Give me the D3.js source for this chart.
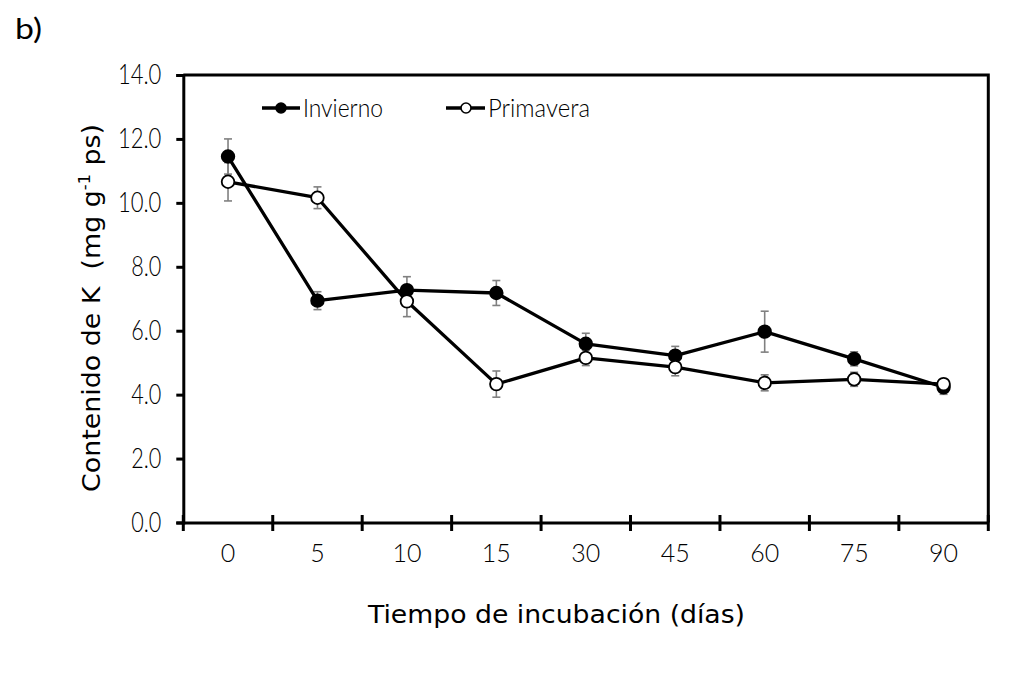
<!DOCTYPE html>
<html>
<head>
<meta charset="utf-8">
<script src="https://cdn.jsdelivr.net/npm/d3@7/dist/d3.min.js"></script>
<style>
  html, body { margin: 0; padding: 0; background: #fff; }
  svg { display: block; }
</style>
</head>
<body>
<svg id="chart" width="1030" height="688"></svg>
<script>
// ---- data ----
const categories = ["0", "5", "10", "15", "30", "45", "60", "75", "90"];
const invierno    = [11.45, 6.94, 7.27, 7.18, 5.59, 5.22, 5.97, 5.12, 4.23];
const inviernoErr = [0.55, 0.28, 0.42, 0.39, 0.33, 0.29, 0.64, 0.22, 0.22];
const primavera    = [10.66, 10.16, 6.92, 4.33, 5.15, 4.86, 4.37, 4.48, 4.33];
const primaveraErr = [0.60, 0.34, 0.48, 0.41, 0.24, 0.27, 0.25, 0.22, 0.16];
const yTicks = [0, 2, 4, 6, 8, 10, 12, 14];
const seriesNames = ["Invierno", "Primavera"];

// ---- layout ----
const L = 183.3, R = 988.3, T = 75, B = 522.5;
const svg = d3.select("#chart");

const x = d3.scaleBand().domain(categories).range([L, R]).padding(0);
const y = d3.scaleLinear().domain([0, 14]).range([B, T]);

const tickFont = "'Lato', 'Liberation Sans', sans-serif";
const tickWeight = 300;
const titleFont = "'DejaVu Sans', Verdana, sans-serif";
function digitLen(s, dw, pw) {
  let n = 0;
  for (const c of s) n += (c === "." ? pw : dw);
  return n;
}

// frame (top and right)
svg.append("path")
  .attr("d", `M${L},${T}H${R}V${B}`)
  .attr("fill", "none").attr("stroke", "#000").attr("stroke-width", 3);

// y axis
const yAxis = d3.axisLeft(y).tickValues(yTicks).tickFormat(d3.format(".1f")).tickSize(7).tickPadding(15);
const gy = svg.append("g").attr("transform", `translate(${L},0)`).call(yAxis);
gy.select(".domain").attr("stroke", "#000").attr("stroke-width", 3);
gy.selectAll(".tick line").attr("stroke", "#000").attr("stroke-width", 3);
gy.selectAll(".tick text")
  .attr("font-family", tickFont).attr("font-weight", tickWeight).attr("font-size", 27).attr("fill", "#000")
  .attr("textLength", d => digitLen(d3.format(".1f")(d), 13.3, 3.5))
  .attr("lengthAdjust", "spacingAndGlyphs");

// x axis (labels at band centres, ticks at band boundaries)
const xAxis = d3.axisBottom(x).tickSize(0).tickPadding(22);
const gx = svg.append("g").attr("transform", `translate(0,${B})`).call(xAxis);
gx.select(".domain").attr("stroke", "#000").attr("stroke-width", 3);
gx.selectAll(".tick text")
  .attr("font-family", tickFont).attr("font-weight", tickWeight).attr("font-size", 25).attr("fill", "#000")
  .attr("textLength", d => digitLen(d, 14.5, 3))
  .attr("lengthAdjust", "spacingAndGlyphs");
const bounds = categories.map(c => x(c)).concat([x.range()[1]]);
gx.selectAll(".bound").data(bounds).enter().append("line")
  .attr("class", "bound")
  .attr("x1", d => d).attr("x2", d => d)
  .attr("y1", -7.5).attr("y2", 8.5)
  .attr("stroke", "#000").attr("stroke-width", 3);

const cx = c => x(c) + x.bandwidth() / 2;

const series = [
  { name: seriesNames[0], vals: invierno, err: inviernoErr, fill: "#000" },
  { name: seriesNames[1], vals: primavera, err: primaveraErr, fill: "#fff" }
];

// error bars
series.forEach(s => {
  const g = svg.append("g").attr("stroke", "#808080").attr("stroke-width", 1.6).attr("fill", "none");
  categories.forEach((c, i) => {
    const xc = cx(c), y1 = y(s.vals[i] + s.err[i]), y2 = y(s.vals[i] - s.err[i]);
    g.append("line").attr("x1", xc).attr("x2", xc).attr("y1", y1).attr("y2", y2);
    g.append("line").attr("x1", xc - 4).attr("x2", xc + 4).attr("y1", y1).attr("y2", y1);
    g.append("line").attr("x1", xc - 4).attr("x2", xc + 4).attr("y1", y2).attr("y2", y2);
  });
});

// lines
const line = d3.line().x((d, i) => cx(categories[i])).y(d => y(d));
series.forEach(s => {
  svg.append("path").datum(s.vals).attr("d", line)
    .attr("fill", "none").attr("stroke", "#000").attr("stroke-width", 3.3)
    .attr("stroke-linejoin", "round");
});

// markers
series.forEach(s => {
  svg.append("g").selectAll("circle").data(s.vals).enter().append("circle")
    .attr("cx", (d, i) => cx(categories[i])).attr("cy", d => y(d))
    .attr("r", 6.3).attr("fill", s.fill).attr("stroke", "#000").attr("stroke-width", 1.8);
});

// legend
const legendItems = [
  { x0: 262, x1: 300, mx: 281, tx: 303, tl: 80 },
  { x0: 446, x1: 485, mx: 466, tx: 488, tl: 102 }
];
const ly = 108;
series.forEach((s, i) => {
  const li = legendItems[i];
  svg.append("line").attr("x1", li.x0).attr("x2", li.x1).attr("y1", ly).attr("y2", ly)
    .attr("stroke", "#000").attr("stroke-width", 3.3);
  svg.append("circle").attr("cx", li.mx).attr("cy", ly).attr("r", 5)
    .attr("fill", s.fill).attr("stroke", "#000").attr("stroke-width", 1.6);
  svg.append("text").attr("x", li.tx).attr("y", ly + 9)
    .attr("font-family", tickFont).attr("font-weight", tickWeight).attr("font-size", 26).attr("fill", "#000")
    .attr("textLength", li.tl).attr("lengthAdjust", "spacingAndGlyphs")
    .text(s.name);
});

// axis titles
svg.append("text")
  .attr("x", 556.5).attr("y", 623).attr("text-anchor", "middle")
  .attr("font-family", titleFont).attr("font-size", 24).attr("fill", "#000")
  .attr("textLength", 377).attr("lengthAdjust", "spacingAndGlyphs")
  .text("Tiempo de incubación (días)");

const yt = svg.append("text")
  .attr("transform", "translate(100,308) rotate(-90)")
  .attr("text-anchor", "middle")
  .attr("font-family", titleFont).attr("font-size", 25).attr("fill", "#000")
  .attr("textLength", 368).attr("lengthAdjust", "spacingAndGlyphs");
yt.append("tspan").text("Contenido de K\u00A0\u00A0(mg g");
yt.append("tspan").attr("font-size", 15).attr("dy", -10).text("-1");
yt.append("tspan").attr("dy", 10).text("\u00A0ps)");

// panel label
svg.append("text").attr("x", 15).attr("y", 39)
  .attr("font-family", tickFont).attr("font-weight", 400).attr("font-size", 29).attr("fill", "#000")
  .attr("textLength", 27).attr("lengthAdjust", "spacingAndGlyphs")
  .text("b)");
</script>
</body>
</html>
